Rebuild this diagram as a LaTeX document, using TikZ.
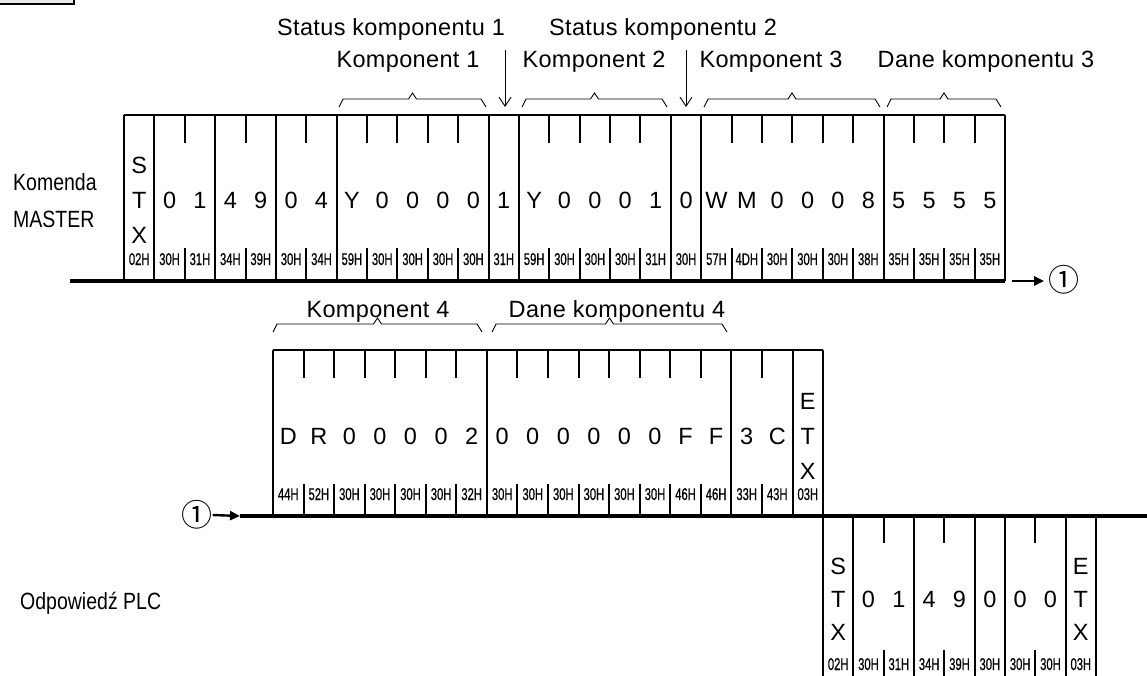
\documentclass[tikz,border=0pt]{standalone}
\usepackage{fontspec}
\setmainfont{Liberation Sans}
\newfontfamily\lblfont[LetterSpace=1.5]{Liberation Sans}
\newfontfamily\hexfont[FakeStretch=0.66,FakeBold=0.6]{Liberation Sans}
\newfontfamily\sidefont[FakeStretch=0.83]{Liberation Sans}
\newfontfamily\circfont{Noto Sans CJK JP}
\usetikzlibrary{arrows.meta}
\tikzset{
  frm/.style={line width=2pt},
  baseln/.style={line width=3.5pt},
  brcline/.style={line width=0.9pt},
  arr/.style={line width=2.4pt,-{Triangle[length=10pt,width=9pt]}},
  darr/.style={line width=0.9pt,-{Straight Barb[length=9pt,width=12pt,line width=0.9pt]}},
  lbl/.style={font=\lblfont\fontsize{23.5}{26}\selectfont,inner sep=0pt,anchor=base},
  cell/.style={font=\fontsize{23.5}{26}\selectfont,inner sep=0pt,anchor=base},
  hex/.style={font=\hexfont\fontsize{17}{19}\selectfont,inner sep=0pt,anchor=base},
  side/.style={font=\sidefont\fontsize{23.5}{26}\selectfont,inner sep=0pt,anchor=base west},
  circ/.style={font=\circfont\fontsize{31}{33}\selectfont,inner sep=0pt},
}
\newcommand\brc[3]{%
  \draw[brcline] (#1,#3+8) -- ({#1+4},#3) -- ({(#1+#2)/2-4},#3) -- ({(#1+#2)/2},{#3-6}) -- ({(#1+#2)/2+4},#3) -- ({#2-5},#3) -- (#2,#3+8);}
\begin{document}
\begin{tikzpicture}[x=1pt,y=-1pt]
\useasboundingbox (0,0) rectangle (1147,675);
% corner box
\draw[line width=2pt,fill=black!9] (-5,-10) rectangle (74,4);

% ---------------- top labels
\node[lbl] (st1) at (391,35) {Status komponentu 1};
\node[lbl] (st2) at (663,35) {Status komponentu 2};
\node[lbl] (k1) at (408,67) {Komponent 1};
\node[lbl] (k2) at (594,67) {Komponent 2};
\node[lbl] (k3) at (771,67) {Komponent 3};
\node[lbl] (d3) at (986,67) {Dane komponentu 3};
\coordinate (s1a) at (505,50); \coordinate (s1b) at (505,107);
\coordinate (s2a) at (686,50); \coordinate (s2b) at (686,107);
\draw[darr] (s1a) -- (s1b);
\draw[darr] (s2a) -- (s2b);
\brc{339}{486}{99}
\brc{522}{667}{99}
\brc{704}{880}{99}
\brc{887}{1001}{99}

% ---------------- frame 1
\def\xa{124}\def\wa{30.38}
\node[side] (km) at (13,190) {Komenda};
\node[side] (ms) at (13,227) {MASTER};
\draw[frm] (\xa,115) -- ({\xa+29*\wa},115);
\foreach \i in {0,1,3,5,7,12,13,18,19,25,29}
  \draw[frm] ({\xa+\i*\wa},115) -- ({\xa+\i*\wa},281);
\foreach \i in {2,4,6,8,9,10,11,14,15,16,17,20,21,22,23,24,26,27,28}{
  \draw[frm] ({\xa+\i*\wa},115) -- ({\xa+\i*\wa},143);
  \draw[frm] ({\xa+\i*\wa},248) -- ({\xa+\i*\wa},281);}
\node[cell] (fas) at ({\xa+0.5*\wa},173) {S};
\node[cell] (fat) at ({\xa+0.5*\wa},208) {T};
\node[cell] (fax) at ({\xa+0.5*\wa},243) {X};
\foreach \c [count=\i from 1] in {0,1,4,9,0,4,Y,0,0,0,0,1,Y,0,0,0,1,0,W,M,0,0,0,8,5,5,5,5}
  \node[cell] (fa\i) at ({\xa+(\i+0.5)*\wa},208) {\c};
\foreach \h [count=\i from 0] in {02H,30H,31H,34H,39H,30H,34H,59H,30H,30H,30H,30H,31H,59H,30H,30H,30H,31H,30H,57H,4DH,30H,30H,30H,38H,35H,35H,35H,35H}
  \node[hex] (ha\i) at ({\xa+(\i+0.5)*\wa},265) {\h};
\draw[baseln] (70,281) -- (1005,281);
\node[circ] (c1) at (1064,280) {①};
\coordinate (a1s) at (1012,281); \coordinate (a1e) at (1044,281);
\draw[arr] (a1s) -- (a1e);

% ---------------- frame 2
\def\xb{273}\def\wb{30.56}
\node[lbl] (k4) at (378,317) {Komponent 4};
\node[lbl] (d4) at (617,317) {Dane komponentu 4};
\brc{273}{482}{324}
\brc{492}{727}{324}
\draw[frm] (\xb,350) -- ({\xb+18*\wb},350);
\foreach \i in {0,7,15,17,18}
  \draw[frm] ({\xb+\i*\wb},350) -- ({\xb+\i*\wb},516);
\foreach \i in {1,2,3,4,5,6,8,9,10,11,12,13,14,16}{
  \draw[frm] ({\xb+\i*\wb},350) -- ({\xb+\i*\wb},378);
  \draw[frm] ({\xb+\i*\wb},484) -- ({\xb+\i*\wb},516);}
\foreach \c [count=\i from 0] in {D,R,0,0,0,0,2,0,0,0,0,0,0,F,F,3,C}
  \node[cell] (fb\i) at ({\xb+(\i+0.5)*\wb},444) {\c};
\node[cell] (fbe) at ({\xb+17.5*\wb},409) {E};
\node[cell] (fbt) at ({\xb+17.5*\wb},444) {T};
\node[cell] (fbx) at ({\xb+17.5*\wb},479) {X};
\foreach \h [count=\i from 0] in {44H,52H,30H,30H,30H,30H,32H,30H,30H,30H,30H,30H,30H,46H,46H,33H,43H,03H}
  \node[hex] (hb\i) at ({\xb+(\i+0.5)*\wb},500) {\h};
\node[circ] (c2) at (197,515) {①};
\coordinate (a2e) at (240,516);
\draw[arr] (c2.east) -- (a2e);
\coordinate (b2e) at (1150,516);
\draw[baseln] (a2e) -- (b2e);

% ---------------- frame 3
\def\xc{823}\def\wc{30.33}
\node[side] (op) at (20,609) {Odpowiedź PLC};
\foreach \i in {0,1,3,5,6,8,9}
  \draw[frm] ({\xc+\i*\wc},516) -- ({\xc+\i*\wc},677);
\foreach \i in {2,4,7}{
  \draw[frm] ({\xc+\i*\wc},516) -- ({\xc+\i*\wc},543);
  \draw[frm] ({\xc+\i*\wc},650) -- ({\xc+\i*\wc},677);}
\node[cell] (fcs) at ({\xc+0.5*\wc},574) {S};
\node[cell] (fct) at ({\xc+0.5*\wc},607) {T};
\node[cell] (fcx) at ({\xc+0.5*\wc},640) {X};
\foreach \c [count=\i from 1] in {0,1,4,9,0,0,0}
  \node[cell] (fc\i) at ({\xc+(\i+0.5)*\wc},607) {\c};
\node[cell] (fce) at ({\xc+8.5*\wc},574) {E};
\node[cell] (fcet) at ({\xc+8.5*\wc},607) {T};
\node[cell] (fcex) at ({\xc+8.5*\wc},640) {X};
\foreach \h [count=\i from 0] in {02H,30H,31H,34H,39H,30H,30H,30H,03H}
  \node[hex] (hc\i) at ({\xc+(\i+0.5)*\wc},670) {\h};
\end{tikzpicture}
\end{document}
